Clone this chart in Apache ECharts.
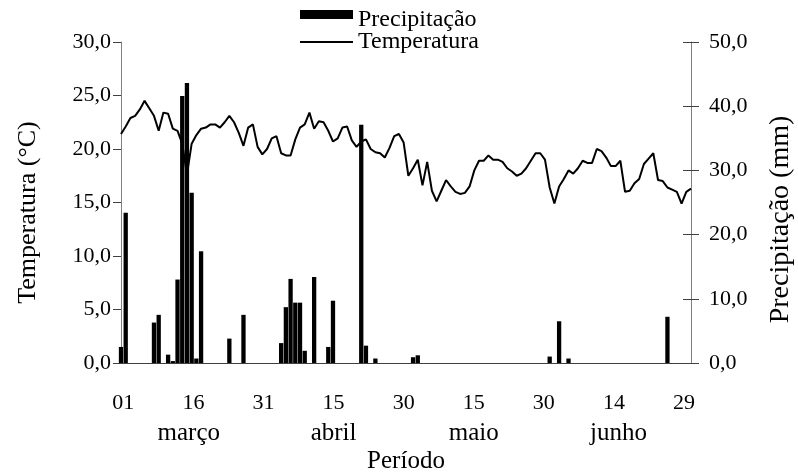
<!DOCTYPE html>
<html><head><meta charset="utf-8">
<script src="https://cdn.jsdelivr.net/npm/echarts@6/dist/echarts.min.js"></script>
<style>html,body{margin:0;padding:0;background:#fff}#c{width:798px;height:476px}</style>
</head><body><div id="c"></div>
<script>
// Period: 1 March - 30 June (daily)
const monthNames = ['março', 'abril', 'maio', 'junho'];
const monthLengths = [31, 30, 31, 30];
const monthLabelIndex = [14, 45, 75, 106];
const dayLabelStep = 15;

// Temperatura (°C), daily
const temperature = [
  21.4, 22.1, 22.9, 23.1, 23.7, 24.5, 23.8, 23.1, 21.7, 23.4,
  23.3, 21.9, 21.7, 20.5, 17.6, 20.5, 21.3, 21.9, 22.0, 22.3,
  22.3, 22.0, 22.5, 23.1, 22.5, 21.5, 20.3, 22.0, 22.3, 20.2,
  19.5, 20.0, 21.0, 21.2, 19.6, 19.4, 19.4, 20.9, 22.0, 22.3,
  23.4, 21.9, 22.6, 22.5, 21.7, 20.7, 21.0, 22.0, 22.1, 20.8,
  20.2, 20.7, 20.9, 20.0, 19.7, 19.6, 19.2, 20.1, 21.2, 21.4,
  20.6, 17.5, 18.2, 19.0, 16.6, 18.8, 16.1, 15.1, 16.1, 17.1,
  16.5, 16.0, 15.8, 15.9, 16.5, 18.0, 18.9, 18.9, 19.4, 19.0,
  19.0, 18.8, 18.2, 17.9, 17.5, 17.7, 18.2, 18.9, 19.6, 19.6,
  19.0, 16.4, 14.9, 16.5, 17.2, 18.0, 17.7, 18.2, 18.9, 18.7,
  18.7, 20.0, 19.8, 19.2, 18.4, 18.4, 18.9, 16.0, 16.1, 16.8,
  17.2, 18.6, 19.1, 19.6, 17.1, 17.0, 16.4, 16.2, 16.0, 14.9,
  16.0, 16.3
];

// Precipitação (mm), daily
const precipitation = [
  2.5, 23.4, 0, 0, 0, 0, 0, 6.3, 7.5, 0,
  1.3, 0.3, 13.0, 41.6, 43.6, 26.5, 0.7, 17.4, 0, 0,
  0, 0, 0, 3.8, 0, 0, 7.5, 0, 0, 0,
  0, 0, 0, 0, 3.1, 8.7, 13.1, 9.4, 9.4, 1.9,
  0, 13.4, 0, 0, 2.5, 9.7, 0, 0, 0, 0,
  0, 37.1, 2.7, 0, 0.7, 0, 0, 0, 0, 0,
  0, 0, 0.9, 1.2, 0, 0, 0, 0, 0, 0,
  0, 0, 0, 0, 0, 0, 0, 0, 0, 0,
  0, 0, 0, 0, 0, 0, 0, 0, 0, 0,
  0, 1.0, 0, 6.5, 0, 0.7, 0, 0, 0, 0,
  0, 0, 0, 0, 0, 0, 0, 0, 0, 0,
  0, 0, 0, 0, 0, 0, 7.2, 0, 0, 0,
  0, 0
];

const days = [];
monthLengths.forEach(function (n) {
  for (let d = 1; d <= n; d++) days.push(String(d).padStart(2, '0'));
});

const FONT = 'Liberation Serif';
const comma = function (v) { return v.toFixed(1).replace('.', ','); };
const legendText = { fontFamily: FONT, fontSize: 24, color: '#000', lineHeight: 24 };

const chart = echarts.init(document.getElementById('c'), null, { renderer: 'canvas' });
chart.setOption({
  animation: false,
  backgroundColor: '#ffffff',
  textStyle: { fontFamily: FONT, color: '#000' },
  grid: { left: 121, right: 107, top: 42, bottom: 113, containLabel: false, outerBoundsMode: 'none' },
  legend: [
    {
      orient: 'vertical', left: 300, top: 7.5, padding: 0,
      itemWidth: 53, itemHeight: 19,
      textStyle: legendText,
      data: [{ name: 'Precipitação', icon: 'path://M0,0H53V9H0Z M0,19' }]
    },
    {
      orient: 'vertical', left: 300, top: 30, padding: 0,
      itemWidth: 53, itemHeight: 2,
      textStyle: legendText,
      data: [{ name: 'Temperatura', icon: 'rect' }]
    }
  ],
  xAxis: [
    {
      type: 'category', data: days, boundaryGap: true, position: 'bottom',
      axisLine: { lineStyle: { color: '#404040', width: 1 } },
      axisTick: { interval: 0, length: 6, lineStyle: { color: '#404040' } },
      axisLabel: {
        interval: function (i) { return i % dayLabelStep === 0; },
        fontFamily: FONT, fontSize: 22, color: '#000', margin: 29
      },
      name: 'Período', nameLocation: 'middle', nameGap: 86,
      nameTextStyle: { fontFamily: FONT, fontSize: 25, color: '#000' }
    },
    {
      type: 'category', data: days, boundaryGap: true, position: 'bottom',
      axisLine: { show: false }, axisTick: { show: false },
      axisLabel: {
        interval: function (i) { return monthLabelIndex.indexOf(i) >= 0; },
        formatter: function (v, i) { return monthNames[monthLabelIndex.indexOf(i)]; },
        fontFamily: FONT, fontSize: 25, color: '#000', margin: 58
      }
    },
    { type: 'category', data: days, boundaryGap: false, show: false }
  ],
  yAxis: [
    {
      type: 'value', min: 0, max: 30, interval: 5, position: 'left',
      axisLine: { show: true, lineStyle: { color: '#808080' } },
      axisTick: { show: true, length: 8, lineStyle: { color: '#404040' } },
      axisLabel: { formatter: comma, fontFamily: FONT, fontSize: 22, color: '#000', margin: 10 },
      splitLine: { show: false },
      name: 'Temperatura (°C)', nameLocation: 'middle', nameRotate: 90, nameGap: 80,
      nameTextStyle: { fontFamily: FONT, fontSize: 26, color: '#000', padding: [0, 20, 0, 0] }
    },
    {
      type: 'value', min: 0, max: 50, interval: 10, position: 'right',
      axisLine: { show: true, lineStyle: { color: '#808080' } },
      axisTick: { show: true, length: 8, lineStyle: { color: '#404040' } },
      axisLabel: { formatter: comma, fontFamily: FONT, fontSize: 22, color: '#000', margin: 18 },
      splitLine: { show: false },
      name: 'Precipitação (mm)', nameLocation: 'middle', nameRotate: 90, nameGap: 76,
      nameTextStyle: { fontFamily: FONT, fontSize: 28, color: '#000', padding: [0, 34, 0, 0] }
    },
    {
      type: 'value', min: 0, max: 50, interval: 10, position: 'right',
      axisLine: { show: false },
      axisTick: { show: true, inside: true, length: 8, lineStyle: { color: '#404040' } },
      axisLabel: { show: false }, splitLine: { show: false }
    }
  ],
  series: [
    {
      name: 'Precipitação', type: 'bar', xAxisIndex: 2, yAxisIndex: 1,
      data: precipitation, barWidth: 4.3, clip: true,
      itemStyle: { color: '#000' }
    },
    {
      name: 'Temperatura', type: 'line', xAxisIndex: 2, yAxisIndex: 0,
      data: temperature, symbol: 'none', showSymbol: false,
      lineStyle: { color: '#000', width: 2 }, itemStyle: { color: '#000' }
    }
  ]
});
</script>
</body></html>
